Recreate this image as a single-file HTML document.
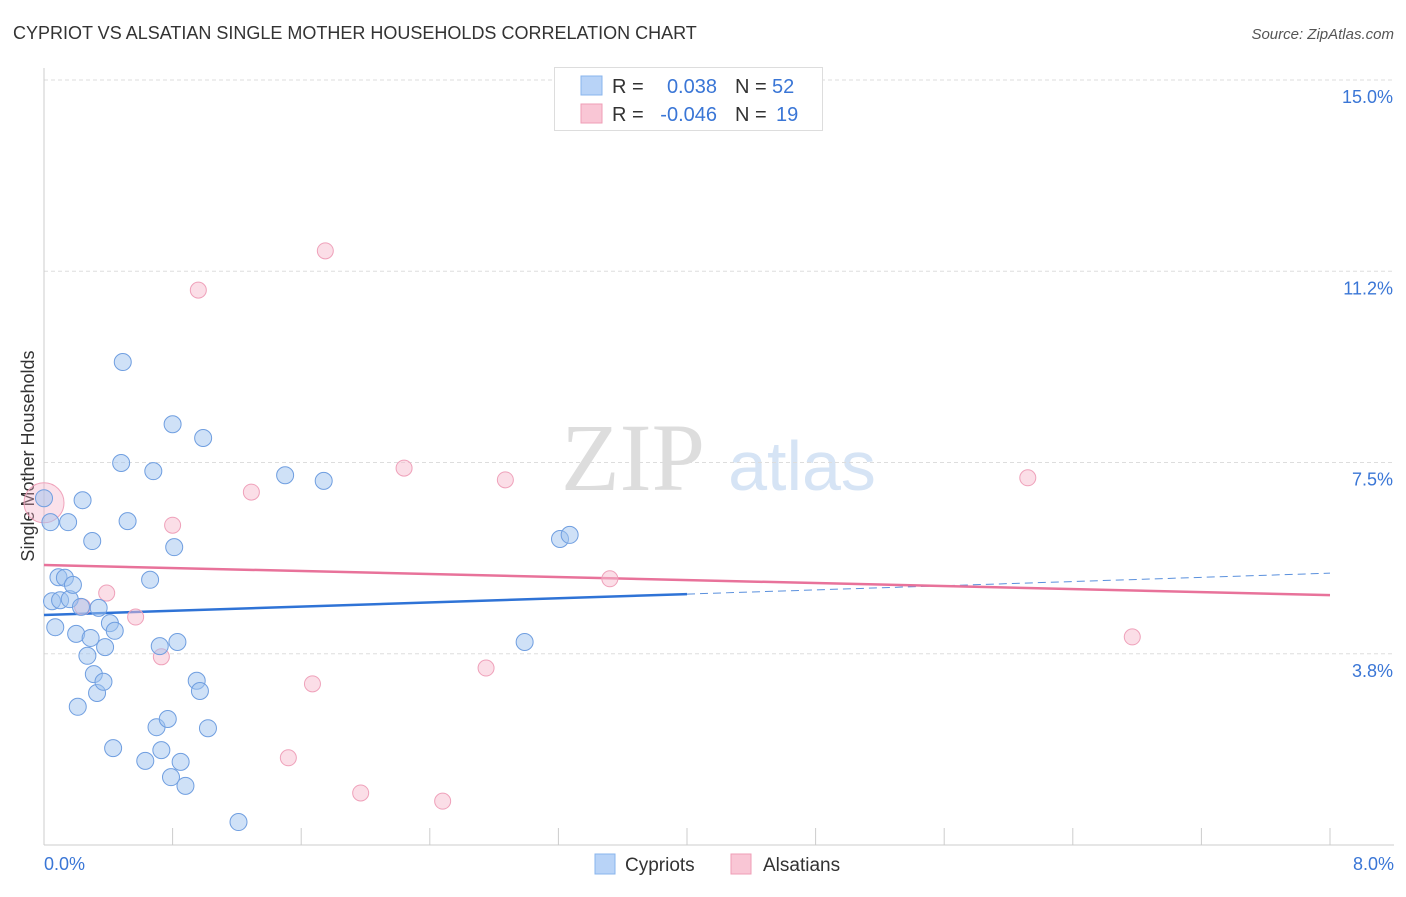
<!DOCTYPE html>
<html><head><meta charset="utf-8">
<style>
body{margin:0;background:#fff;font-family:"Liberation Sans",sans-serif;}
svg text{font-family:"Liberation Sans",sans-serif;}
</style></head>
<body>
<svg id="chart" width="1406" height="892">
<text x="13" y="39" font-size="18" fill="#333">CYPRIOT VS ALSATIAN SINGLE MOTHER HOUSEHOLDS CORRELATION CHART</text>
<text x="1394" y="39" font-size="15" fill="#555" font-style="italic" text-anchor="end">Source: ZipAtlas.com</text>
<text x="0" y="0" font-size="18" fill="#333" text-anchor="middle" transform="translate(34,456) rotate(-90)">Single Mother Households</text>
<g>
<text x="633" y="490" font-size="96" fill="#ddd" font-family="Liberation Serif" text-anchor="middle" style="font-family:'Liberation Serif',serif">ZIP</text>
<text x="802" y="490" font-size="70" fill="#d6e4f5" text-anchor="middle">atlas</text>
</g>
<g id="grid"></g>
<g id="axes"></g>
<g id="trends"></g>
<g id="points"></g>
<g>
<rect x="554.5" y="67.5" width="268" height="63" fill="#fff" stroke="#ddd"/>
<rect x="581" y="76" width="21" height="19" fill="#b8d3f7" stroke="#89b4ec"/>
<rect x="581" y="104" width="21" height="19" fill="#f9c6d5" stroke="#ef9db6"/>
<text x="612" y="93" font-size="20" fill="#333">R =</text>
<text x="717" y="93" font-size="20" fill="#3a76d6" text-anchor="end">0.038</text>
<text x="735" y="93" font-size="20" fill="#333">N =</text>
<text x="772" y="93" font-size="20" fill="#3a76d6">52</text>
<text x="612" y="121" font-size="20" fill="#333">R =</text>
<text x="717" y="121" font-size="20" fill="#3a76d6" text-anchor="end">-0.046</text>
<text x="735" y="121" font-size="20" fill="#333">N =</text>
<text x="776" y="121" font-size="20" fill="#3a76d6">19</text>
</g>
<g>
<rect x="595" y="854" width="20" height="20" fill="#b8d3f7" stroke="#89b4ec"/>
<text x="625" y="871" font-size="19" fill="#333">Cypriots</text>
<rect x="731" y="854" width="20" height="20" fill="#f9c6d5" stroke="#ef9db6"/>
<text x="763" y="871" font-size="19" fill="#333">Alsatians</text>
</g>
</svg>
<script>
const xTickLabels=["0.0%","8.0%"];
const yTicks=[3.75,7.5,11.25,15];
const yTickLabels=["3.8%","7.5%","11.2%","15.0%"];
const blueX=[0.00,0.04,0.05,0.07,0.09,0.10,0.13,0.15,0.16,0.18,0.20,0.21,0.23,0.24,0.27,0.29,0.30,0.31,0.33,0.34,0.37,0.38,0.41,0.43,0.44,0.48,0.49,0.52,0.63,0.66,0.68,0.70,0.72,0.73,0.77,0.79,0.80,0.81,0.83,0.85,0.88,0.95,0.97,0.99,1.02,1.21,1.50,1.74,2.99,3.21,3.27];
const blueY=[6.80,6.33,4.78,4.27,5.25,4.80,5.24,6.33,4.82,5.10,4.14,2.71,4.67,6.76,3.71,4.06,5.96,3.35,2.98,4.65,3.20,3.88,4.35,1.90,4.20,7.49,9.47,6.35,1.65,5.20,7.33,2.31,3.90,1.86,2.47,1.33,8.25,5.84,3.98,1.63,1.16,3.22,3.02,7.98,2.29,0.45,7.25,7.14,3.98,6.00,6.08];
const pinkX=[0.24,0.39,0.57,0.73,0.80,0.96,1.29,1.52,1.67,1.75,1.97,2.24,2.48,2.75,2.87,3.52,6.12,6.77];
const pinkY=[4.67,4.94,4.47,3.69,6.27,10.88,6.92,1.71,3.16,11.65,1.02,7.39,0.86,3.47,7.16,5.22,7.20,4.08];
const pinkBigX=[0.00], pinkBigY=[6.71];
const blueTrend=[4.51,5.33]; const pinkTrend=[5.49,4.90];
const X=v=>44+v*160.75, Y=v=>845-v*51;
const NS="http://www.w3.org/2000/svg";
function mk(tag,attrs,parent){const e=document.createElementNS(NS,tag);for(const k in attrs)e.setAttribute(k,attrs[k]);document.getElementById(parent).appendChild(e);return e;}
yTicks.forEach((t,i)=>{
 const g=mk('line',{x1:44,x2:1394,y1:Y(t),y2:Y(t),stroke:'#ddd','stroke-dasharray':'4,3'},'grid');
 
 
 const l=mk('text',{x:1393,y:Y(t)+23,'font-size':18,fill:'#3a76d6','text-anchor':'end'},'grid');
 l.textContent=yTickLabels[i];
 
 
});
const ax=mk('line',{x1:44,x2:1394,y1:845,y2:845,stroke:'#ccc'},'axes');


const ay=mk('line',{x1:44,x2:44,y1:68,y2:845,stroke:'#ccc'},'axes');


for(let i=0;i<=10;i++){const t=mk('line',{x1:X(i*0.8),x2:X(i*0.8),y1:828,y2:845,stroke:'#ccc'},'axes');
 
 }
[[0,44,'start'],[8,1394,'end']].forEach((d,i)=>{const l=mk('text',{x:d[1],y:870,'font-size':18,fill:'#3a76d6','text-anchor':d[2]},'axes');l.textContent=xTickLabels[i];
 
 });
const bt=(x)=>blueTrend[0]+(blueTrend[1]-blueTrend[0])*x/8;
let tl=mk('line',{x1:X(0),y1:Y(bt(0)),x2:X(4),y2:Y(bt(4)),stroke:'#2f73d6','stroke-width':2.5},'trends');


tl=mk('line',{x1:X(4),y1:Y(bt(4)),x2:X(8),y2:Y(bt(8)),stroke:'#5a90dd','stroke-width':1,'stroke-dasharray':'8,5'},'trends');


tl=mk('line',{x1:X(0),y1:Y(pinkTrend[0]),x2:X(8),y2:Y(pinkTrend[1]),stroke:'#e8729a','stroke-width':2.5},'trends');


pinkBigX.forEach((x,i)=>{const c=mk('circle',{cx:X(x),cy:Y(pinkBigY[i]),r:20,fill:'rgba(244,170,195,0.35)',stroke:'#f0a3bb'},'points');
 
 });
pinkX.forEach((x,i)=>{const c=mk('circle',{cx:X(x),cy:Y(pinkY[i]),r:8,fill:'rgba(248,190,208,0.5)',stroke:'#efa1ba'},'points');
 
 });
blueX.forEach((x,i)=>{const c=mk('circle',{cx:X(x),cy:Y(blueY[i]),r:8.5,fill:'rgba(160,196,240,0.5)',stroke:'#6f9ee0'},'points');
 
 });
</script>
</body></html>
